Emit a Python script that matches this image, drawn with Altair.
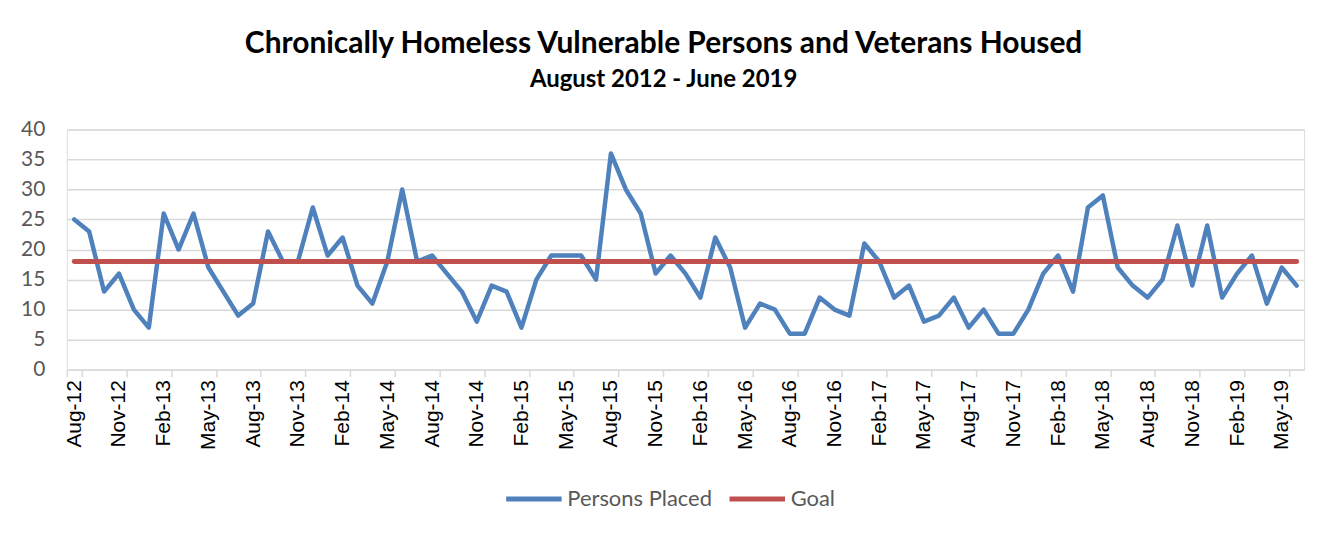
import altair as alt
import pandas as pd

# Monthly categories Aug-2012 .. Jun-2019
months = [d.strftime("%b-%y") for d in pd.date_range("2012-08-01", "2019-06-01", freq="MS")]

persons_placed = [
    25, 23, 13, 16, 10, 7, 26, 20, 26, 17, 13, 9,      # Aug-12 .. Jul-13
    11, 23, 18, 18, 27, 19, 22, 14, 11, 18, 30, 18,    # Aug-13 .. Jul-14
    19, 16, 13, 8, 14, 13, 7, 15, 19, 19, 19, 15,      # Aug-14 .. Jul-15
    36, 30, 26, 16, 19, 16, 12, 22, 17, 7, 11, 10,     # Aug-15 .. Jul-16
    6, 6, 12, 10, 9, 21, 18, 12, 14, 8, 9, 12,         # Aug-16 .. Jul-17
    7, 10, 6, 6, 10, 16, 19, 13, 27, 29, 17, 14,       # Aug-17 .. Jul-18
    12, 15, 24, 14, 24, 12, 16, 19, 11, 17, 14,        # Aug-18 .. Jun-19
]
GOAL = 18

series_names = ["Persons Placed", "Goal"]
series_colors = ["#4F81BD", "#C0504D"]

df_p = pd.DataFrame({"month": months, "value": persons_placed, "series": series_names[0]})
df_g = pd.DataFrame({"month": months, "value": [GOAL] * len(months), "series": series_names[1]})

x_enc = alt.X(
    "month:O",
    sort=months,
    bandPosition=0.5,
    scale=alt.Scale(type="band", domain=months, paddingInner=0, paddingOuter=0),
    axis=alt.Axis(
        title=None,
        values=months[::3],
        tickBand="extent",
        labelAngle=-90,
        labelFont="Liberation Sans",
        labelFontSize=21,
        labelColor="#000000",
        labelPadding=3,
        tickColor="#D9D9D9",
        tickSize=7,
        tickWidth=1.5,
        domainColor="#D9D9D9",
        domainWidth=1.5,
        grid=False,
    ),
)
y_enc = alt.Y(
    "value:Q",
    scale=alt.Scale(domain=[0, 40], nice=False),
    axis=alt.Axis(
        title=None,
        values=list(range(0, 41, 5)),
        ticks=False,
        domain=False,
        labelFont="Lato",
        labelFontSize=21,
        labelColor="#595959",
        labelPadding=22,
        gridColor="#D9D9D9",
        gridWidth=1.5,
        minExtent=45,
        maxExtent=45,
    ),
)
color_enc = alt.Color(
    "series:N",
    scale=alt.Scale(domain=series_names, range=series_colors),
    legend=alt.Legend(
        title=None,
        orient="none",
        legendX=438,
        legendY=340,
        direction="horizontal",
        symbolType="stroke",
        symbolSize=3100,
        symbolStrokeWidth=5,
        labelFont="Lato",
        labelFontSize=22,
        labelColor="#595959",
        labelOffset=3,
        columnPadding=6,
    ),
)

line_p = alt.Chart(df_p).mark_line(strokeWidth=4.5, strokeCap="round", strokeJoin="round").encode(
    x=x_enc, y=y_enc, color=color_enc
)
line_g = alt.Chart(df_g).mark_line(strokeWidth=5, strokeCap="round").encode(
    x=x_enc, y=y_enc, color=color_enc
)

chart = (
    alt.layer(line_p, line_g)
    .properties(
        width=1241,
        height=241,
        padding={"left": 20, "top": 28, "right": 33, "bottom": 10},
        title=alt.TitleParams(
            text="Chronically Homeless Vulnerable Persons and Veterans Housed",
            subtitle="August 2012 - June 2019",
            font="Lato",
            fontSize=30,
            fontWeight="bold",
            color="#000000",
            subtitleFont="Lato",
            subtitleFontSize=24,
            subtitleFontWeight="bold",
            subtitleColor="#000000",
            subtitlePadding=9,
            anchor="middle",
            frame="bounds",
            offset=27,
        ),
    )
    .configure_view(stroke="#404040", strokeWidth=1)
    .configure(background="white")
)

chart.save("out.html", embed_options={"renderer": "svg", "actions": False})
